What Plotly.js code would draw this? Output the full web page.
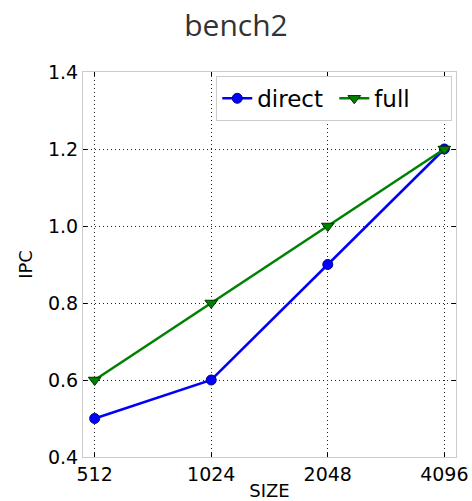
<!DOCTYPE html>
<html><head><meta charset="utf-8">
<script src="https://cdn.plot.ly/plotly-3.0.1.min.js"></script>
<style>html,body{margin:0;padding:0;background:#fff}</style>
</head><body>
<div id="chart" style="width:472px;height:501px"></div>
<script>
var sizes = [512, 1024, 2048, 4096];
var tickLabels = ['512', '1024', '2048', '4096'];
var directIPC = [0.5, 0.6, 0.9, 1.2];
var fullIPC = [0.6, 0.8, 1.0, 1.2];

var traces = [
  {x: sizes, y: directIPC, name: 'direct', mode: 'lines+markers', type: 'scatter',
   line: {color: '#0000ff', width: 2.5},
   marker: {symbol: 'circle', size: 10, color: '#0000ff', line: {color: '#00008b', width: 1}}},
  {x: sizes, y: fullIPC, name: 'full', mode: 'lines+markers', type: 'scatter',
   line: {color: '#008000', width: 2.5},
   marker: {symbol: 'triangle-down', size: 11, color: '#008000', line: {color: '#003300', width: 1}}}
];
var lo = Math.log10(512), hi = Math.log10(4096), pad = (hi - lo) / 30;
var layout = {
  width: 472, height: 501,
  margin: {l: 83, r: 16, t: 72, b: 44},
  paper_bgcolor: '#fff', plot_bgcolor: '#fff',
  title: {text: 'bench2', x: 0.5, xanchor: 'center', y: 0.95, yanchor: 'middle',
          font: {family: 'Open Sans, sans-serif', size: 30, color: '#333'}},
  font: {family: 'DejaVu Sans, sans-serif', size: 19, color: '#000'},
  xaxis: {type: 'log', range: [lo - pad, hi + pad], tickvals: sizes, ticktext: tickLabels,
          showline: true, linecolor: '#ccc', linewidth: 1, mirror: 'ticks',
          ticks: 'inside', ticklen: 4, tickcolor: '#000',
          showgrid: true, gridcolor: '#222', griddash: '1px,3px', gridwidth: 1, zeroline: false,
          tickfont: {size: 19}, title: {text: 'SIZE', font: {size: 18}, standoff: 1}},
  yaxis: {range: [0.4, 1.4], tickvals: [0.4, 0.6, 0.8, 1.0, 1.2, 1.4],
          ticktext: ['0.4', '0.6', '0.8', '1.0', '1.2', '1.4'],
          showline: true, linecolor: '#ccc', linewidth: 1, mirror: 'ticks',
          ticks: 'inside', ticklen: 4, tickcolor: '#000',
          showgrid: true, gridcolor: '#222', griddash: '1px,3px', gridwidth: 1, zeroline: false,
          tickfont: {size: 19}, title: {text: 'IPC', font: {size: 18}, standoff: 10}},
  legend: {orientation: 'h', x: 0.99, xanchor: 'right', y: 0.99, yanchor: 'top',
           bgcolor: '#fff', bordercolor: '#ccc', borderwidth: 1,
           font: {size: 23}, itemwidth: 30, entrywidth: 72, tracegroupgap: 0},
  showlegend: true
};
Plotly.newPlot('chart', traces, layout, {displayModeBar: false, staticPlot: true});
</script>
</body></html>
